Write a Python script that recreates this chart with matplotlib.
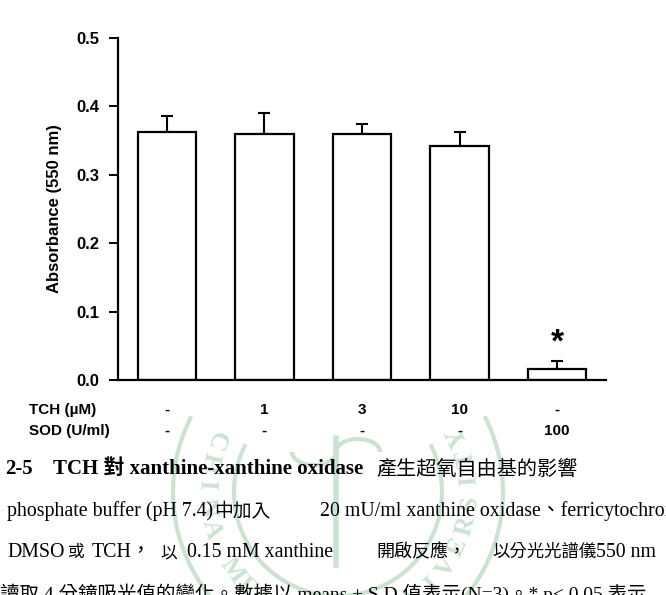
import math
import matplotlib
matplotlib.use("Agg")
import matplotlib.pyplot as plt
from matplotlib.patches import Arc
from matplotlib.lines import Line2D
from matplotlib.transforms import blended_transform_factory

# ---- data ----
groups = ["ctrl", "TCH1", "TCH3", "TCH10", "SOD100"]
means = [0.362, 0.359, 0.360, 0.342, 0.016]
sds = [0.024, 0.032, 0.014, 0.020, 0.012]
tch_labels = ["-", "1", "3", "10", "-"]
sod_labels = ["-", "-", "-", "-", "100"]
yticks = [0.0, 0.1, 0.2, 0.3, 0.4, 0.5]
sig = [False, False, False, False, True]

# caption text pieces (text only)
cap1 = ["2-5", "TCH 對 xanthine-xanthine oxidase", "產生超氧自由基的影響"]
cap2 = ["phosphate buffer (pH 7.4)", "中加入", "20 mU/ml xanthine oxidase、ferricytochrome c"]
cap3 = ["DMSO", "或", "TCH，", "以", "0.15 mM xanthine", "開啟反應，", "以分光光譜儀", "550 nm"]
cap4 = "讀取 4 分鐘吸光值的變化。數據以 means ± S.D 值表示(N=3)。* p< 0.05 表示"
watermark = "CHINA MEDICAL UNIVERSITY"

W, H = 666, 595
fig = plt.figure(figsize=(W / 100, H / 100), dpi=100)


def fx(px):
    return px / W


def fy(py):
    return 1 - py / H


# ---- faint watermark seal behind the caption ----
wm_color = (0.80, 0.89, 0.82)
cx, cy, rt = 338, 492, 132
for r in (165, 104):
    arc = Arc((fx(cx), fy(cy)), 2 * r / W, 2 * r / H, theta1=150, theta2=390,
              transform=fig.transFigure, color=wm_color, lw=3, zorder=0)
    fig.add_artist(arc)
start, step = 157, 9.9
for i, ch in enumerate(watermark):
    th = start + i * step
    if ch == " ":
        continue
    rad = math.radians(th)
    px = cx + rt * math.cos(rad)
    py = cy - rt * math.sin(rad)
    fig.text(fx(px), fy(py), ch, rotation=th + 90, rotation_mode="anchor",
             ha="center", va="center", fontsize=19, fontweight="bold",
             family=["Liberation Serif"], color=wm_color, zorder=0)
# caduceus staff and wings (decorative)
fig.add_artist(Line2D([fx(cx - 2), fx(cx - 2)], [fy(438), fy(565)], transform=fig.transFigure,
                      color=wm_color, lw=4, zorder=0))
for sgn in (-1, 1):
    wing = Arc((fx(cx - 2 + sgn * 22), fy(452)), 44 / W, 26 / H, theta1=0 if sgn > 0 else 180,
               theta2=180 if sgn > 0 else 360, transform=fig.transFigure,
               color=wm_color, lw=3, zorder=0)
    fig.add_artist(wing)

ax = fig.add_axes([118 / W, 1 - 380 / H, (606 - 118) / W, (380 - 38) / H])
ax.patch.set_alpha(0)

sans = ["Liberation Sans", "DejaVu Sans"]
x = list(range(len(groups)))
ax.bar(x, means, width=0.60, color="white", edgecolor="black", linewidth=1.6, zorder=2)
ax.errorbar(x, means, yerr=[[0] * len(sds), sds], fmt="none", ecolor="black",
            elinewidth=1.5, capsize=4.3, capthick=1.5, zorder=1)
for xi, m, s, flag in zip(x, means, sds, sig):
    if flag:
        ax.text(xi, m + s + 0.014, "*", ha="center", va="baseline", fontsize=24,
                fontweight="bold", family=sans)

ax.set_xlim(-0.5, 4.5)
ax.set_ylim(0, 0.5)
ax.set_yticks(yticks)
ax.set_yticklabels([f"{v:.1f}" for v in yticks], fontsize=12, fontweight="bold", family=sans)
ax.set_xticks([])
for sp in ["top", "right"]:
    ax.spines[sp].set_visible(False)
for sp in ["left", "bottom"]:
    ax.spines[sp].set_linewidth(1.6)
ax.tick_params(axis="y", direction="out", length=6.5, width=1.4, pad=7)
ax.set_ylabel("Absorbance (550 nm)", fontsize=12, fontweight="bold", family=sans, labelpad=10)

# condition rows below axis
fig.text(fx(29), fy(410), "TCH (µM)", fontsize=11, fontweight="bold", family=sans, va="center")
fig.text(fx(29), fy(431), "SOD (U/ml)", fontsize=11, fontweight="bold", family=sans, va="center")
bt = blended_transform_factory(ax.transData, fig.transFigure)
for xi, t, s in zip(x, tch_labels, sod_labels):
    fig.text(xi, fy(410), t, transform=bt, ha="center", va="center", fontsize=11,
             fontweight="bold", family=sans)
    fig.text(xi, fy(431), s, transform=bt, ha="center", va="center", fontsize=11,
             fontweight="bold", family=sans)

# caption
serif = ["Liberation Serif", "Noto Sans CJK TC"]


def put(xp, yp, txt, size, **kw):
    fig.text(fx(xp), fy(yp), txt, fontsize=size, family=serif, va="baseline", **kw)


y1, y2, y3, y4 = 474, 516, 557, 600
put(5, y1, cap1[0], 15, fontweight="bold")
put(53, y1, cap1[1], 15, fontweight="bold")
put(376, y1 + 1, cap1[2], 14.5)

put(7, y2, cap2[0], 14.3)
put(214, y2, cap2[1], 13.5)
put(320, y2, cap2[2], 14.3)

put(7, y3, cap3[0], 14.3)
put(68, y3, cap3[1], 12)
put(92, y3, cap3[2], 14.3)
put(160, y3, cap3[3], 12)
put(187, y3, cap3[4], 14.3)
put(376, y3, cap3[5], 13)
put(492, y3, cap3[6], 12.5)
put(596, y3, cap3[7], 14.3)

put(0, y4, cap4, 14)

fig.savefig("out.png", dpi=100)
